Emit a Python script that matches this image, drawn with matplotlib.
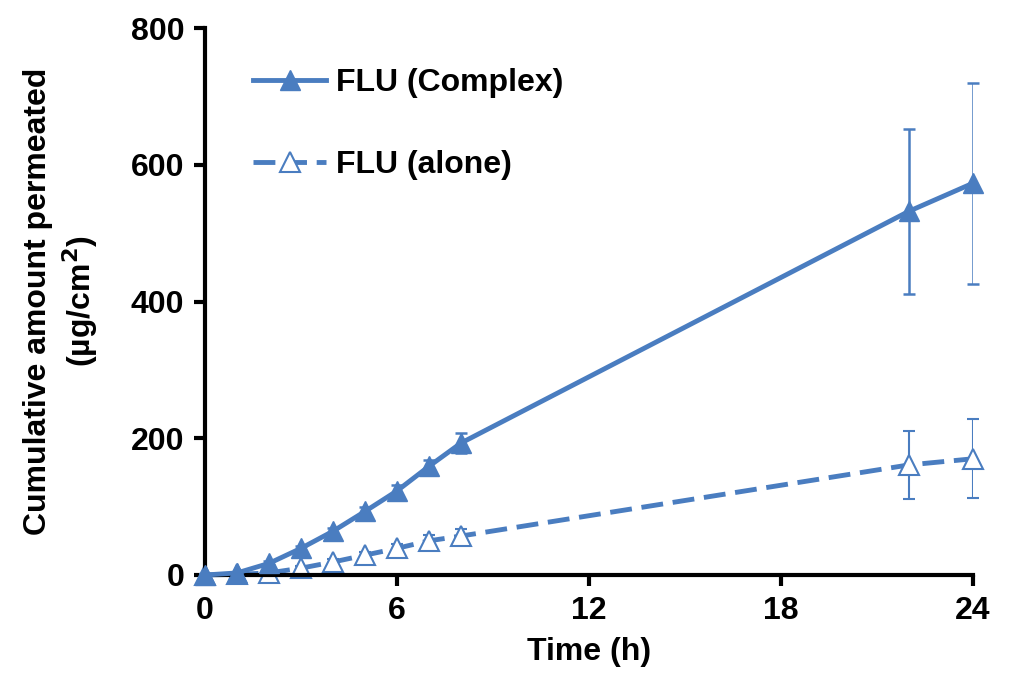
import numpy as np
import matplotlib.pyplot as plt
from matplotlib.lines import Line2D

plt.rcParams['font.family'] = ['Liberation Sans', 'DejaVu Sans']
plt.rcParams['font.weight'] = 'bold'

# 数据
time_h = [0, 1, 2, 3, 4, 5, 6, 7, 8, 22, 24]
complex_mean = [0, 3, 17, 39, 64, 93, 123, 159, 193, 532, 573]
complex_err = [1, 2, 3, 4, 5, 6, 8, 9, 14, 121, 147]
alone_mean = [0, 1, 3, 10, 19, 29, 39, 50, 57, 161, 170]
alone_err = [1, 1, 2, 3, 4, 5, 7, 9, 11, 50, 58]

color = '#4a7dc0'
dash = (0, (4.5, 2))

fig = plt.figure(figsize=(10.11, 6.84), dpi=100)
ax = fig.add_axes([205 / 1011, 1 - 575 / 684, (973 - 205) / 1011, (575 - 28) / 684])

ax.errorbar(time_h, complex_mean, yerr=complex_err, color=color, lw=3.5,
            marker='^', markersize=15, mfc=color, mec=color,
            ecolor=color, elinewidth=1.8, capsize=4, capthick=1.8, zorder=3)
ax.errorbar(time_h, alone_mean, yerr=alone_err, color=color, lw=3.5, ls=dash,
            marker='^', markersize=15, mfc='white', mec=color, mew=1.5,
            ecolor=color, elinewidth=1.5, capsize=4, capthick=1.5, zorder=2)

ax.set_xlim(0, 24)
ax.set_ylim(0, 800)
ax.set_xticks([0, 6, 12, 18, 24])
ax.set_yticks([0, 200, 400, 600, 800])
ax.tick_params(labelsize=23, width=3, length=8, direction='out', pad=7)
for s in ['top', 'right']:
    ax.spines[s].set_visible(False)
for s in ['left', 'bottom']:
    ax.spines[s].set_linewidth(3)
for ln in ax.lines:
    ln.set_clip_on(False)

ax.set_xlabel('Time (h)', fontsize=23, fontweight='bold', labelpad=8)
ax.set_ylabel('Cumulative amount permeated\n(µg/cm$^\\mathbf{2}$)', fontsize=23,
              fontweight='bold', labelpad=22, linespacing=1.25)

handles = [
    Line2D([], [], color=color, lw=3.5, marker='^', markersize=15, mfc=color, mec=color),
    Line2D([], [], color=color, lw=3.5, ls=dash, marker='^', markersize=15,
           mfc='white', mec=color, mew=1.5),
]
ax.legend(handles, ['FLU (Complex)', 'FLU (alone)'], loc='upper left',
          bbox_to_anchor=(0.025, 0.98), frameon=False, fontsize=23,
          handlelength=2.3, labelspacing=1.65, handletextpad=0.3)

fig.savefig('out.png', dpi=100)
